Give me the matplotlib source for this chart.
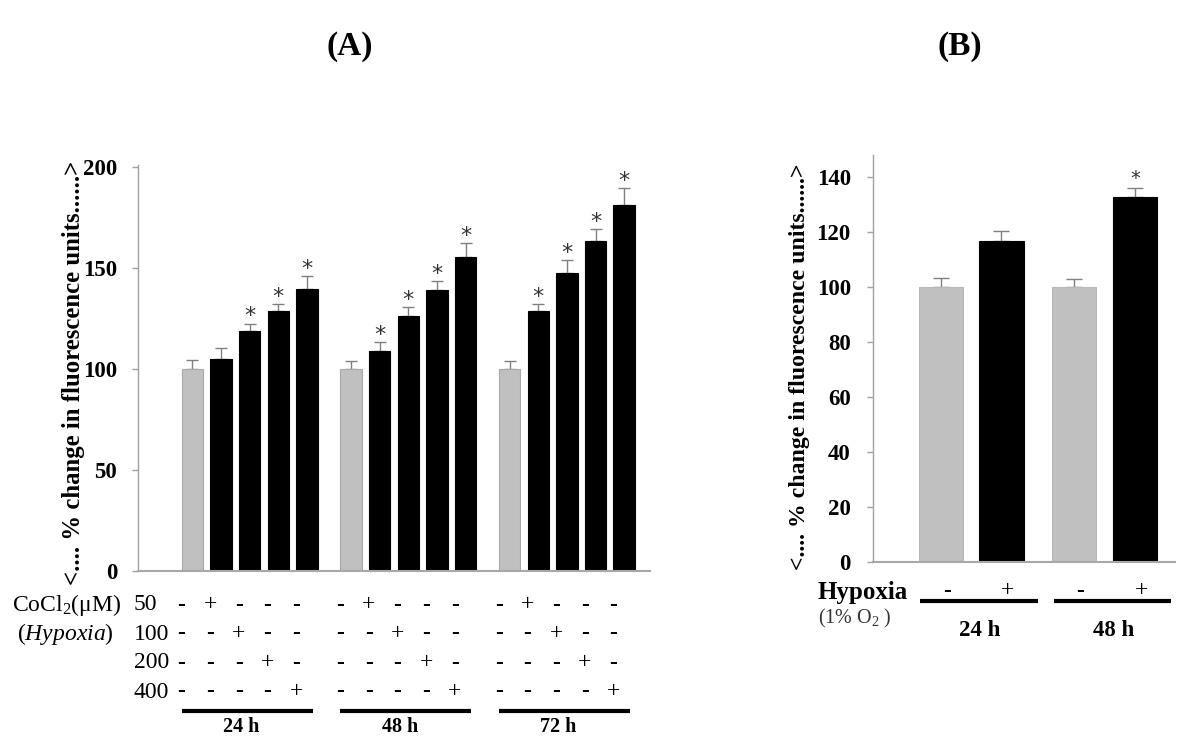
import matplotlib
matplotlib.use('Agg')
import matplotlib.pyplot as plt
import numpy as np
from matplotlib.transforms import blended_transform_factory

plt.rcParams['font.family'] = ['Liberation Serif', 'DejaVu Serif']
plt.rcParams['mathtext.fontset'] = 'custom'
plt.rcParams['mathtext.rm'] = 'Liberation Serif'
plt.rcParams['mathtext.it'] = 'Liberation Serif:italic'
plt.rcParams['mathtext.bf'] = 'Liberation Serif:bold'

# ---------------- data: panel A ----------------
times_a = ['24 h', '48 h', '72 h']
cocl2_doses = ['50', '100', '200', '400']
values_a = [[100, 105.0, 118.8, 128.6, 139.6],
            [100, 108.9, 126.1, 139.0, 155.4],
            [100, 128.6, 147.5, 163.4, 181.3]]
errors_a = [[4.5, 5.4, 3.7, 3.4, 6.2],
            [3.9, 4.3, 4.5, 4.5, 6.8],
            [3.9, 3.4, 6.3, 5.8, 8.3]]
signif_a = [[False, False, True, True, True],
            [False, True, True, True, True],
            [False, True, True, True, True]]
yticks_a = [0, 50, 100, 150, 200]

# ---------------- data: panel B ----------------
times_b = ['24 h', '48 h']
hypoxia_b = ['-', '+']
values_b = [[100, 116.7], [100, 132.5]]
errors_b = [[3.3, 3.4], [2.7, 3.5]]
signif_b = [[False, False], [False, True]]
yticks_b = [0, 20, 40, 60, 80, 100, 120, 140]

ylabel_text = '<.... % change in fluorescence units......>'

GRAY = '#c0c0c0'
BLACK = '#000000'
W, H = 1200, 748
fig = plt.figure(figsize=(W / 100, H / 100), dpi=100)

ov = fig.add_axes([0, 0, 1, 1])
ov.set_xlim(0, W)
ov.set_ylim(H, 0)
ov.axis('off')

def style_axis(ax, yt, fs, pad):
    for s in ['top', 'right']:
        ax.spines[s].set_visible(False)
    ax.spines['left'].set_color('#a0a0a0')
    ax.spines['bottom'].set_color('#a8a8a8')
    ax.spines['left'].set_linewidth(1.0)
    ax.spines['bottom'].set_linewidth(1.5)
    ax.set_yticks(yt)
    ax.set_yticklabels([str(t) for t in yt], fontsize=fs, fontweight='bold')
    ax.tick_params(axis='y', direction='out', length=4, width=1, color='#a0a0a0', pad=pad)
    ax.set_xticks([])
    ax.patch.set_alpha(0)

def sign_text(x, y, sym, tr, fs):
    ov.text(x, y, sym, transform=tr, fontsize=fs, ha='center', va='center',
            fontweight='bold' if sym == '-' else 'normal')

# ---------------- panel A ----------------
axA = fig.add_axes([138 / W, (H - 571) / H, 512 / W, 406 / H])
group_step_a = 5.54
xa = []
for g in range(len(times_a)):
    xs = g * group_step_a + np.arange(len(values_a[g]))
    xa.append(xs)
    cols = [GRAY] + [BLACK] * (len(values_a[g]) - 1)
    ecs = ['#a8a8a8'] + [BLACK] * (len(values_a[g]) - 1)
    axA.bar(xs, values_a[g], width=0.75, color=cols, edgecolor=ecs, linewidth=0.8, zorder=2)
    axA.errorbar(xs, values_a[g], yerr=[np.zeros(len(xs)), errors_a[g]], fmt='none',
                 ecolor='#808080', elinewidth=1, capsize=4.5, capthick=1, zorder=1)
    for x, v, e, s in zip(xs, values_a[g], errors_a[g], signif_a[g]):
        if s:
            axA.annotate('*', (x, v + e), xytext=(0, 1), textcoords='offset points',
                         ha='center', va='baseline', fontsize=16, family='DejaVu Sans',
                         color='#333333')
axA.set_xlim(-1.9, xa[-1][-1] + 0.9)
axA.set_ylim(0, 201)
style_axis(axA, yticks_a, 16.5, 11)

trA = blended_transform_factory(axA.transData, ov.transData)
row_y = [605, 634, 663, 692]
for r, dose in enumerate(cocl2_doses):
    ov.text(134, row_y[r], dose, fontsize=17, ha='left', va='center')
    for g in range(len(times_a)):
        for i, x in enumerate(xa[g]):
            sym = '+' if i == r + 1 else '-'
            sign_text(x - 0.38, row_y[r], sym, trA, 17)
ov.text(12, row_y[0], 'CoCl$_2$(\u03bcM)', fontsize=17, ha='left', va='center')
ov.text(17, row_y[1], '($\\mathit{Hypoxia}$)', fontsize=17, ha='left', va='center')
for g in range(len(times_a)):
    x0 = xa[g][0] - 0.37
    x1 = xa[g][-1] + 0.2
    ov.plot([x0, x1], [711, 711], transform=trA, color='black', lw=3, solid_capstyle='butt')
    ov.text((xa[g][0] + xa[g][-1]) / 2 - 0.3, 727, times_a[g], transform=trA,
            fontsize=14.5, fontweight='bold', ha='center', va='center')

# ---------------- panel B ----------------
axB = fig.add_axes([873 / W, (H - 561.7) / H, 302 / W, (561.7 - 155) / H])
group_step_b = 2.2
xb = []
for g in range(len(times_b)):
    xs = g * group_step_b + np.arange(len(values_b[g]))
    xb.append(xs)
    axB.bar(xs, values_b[g], width=0.73, color=[GRAY, BLACK], edgecolor=['#b8b8b8', BLACK],
            linewidth=0.8, zorder=2)
    axB.errorbar(xs, values_b[g], yerr=[np.zeros(len(xs)), errors_b[g]], fmt='none',
                 ecolor='#808080', elinewidth=1, capsize=6, capthick=1, zorder=1)
    for x, v, e, s in zip(xs, values_b[g], errors_b[g], signif_b[g]):
        if s:
            axB.annotate('*', (x, v + e), xytext=(0, 3), textcoords='offset points',
                         ha='center', va='baseline', fontsize=14, family='DejaVu Sans',
                         color='#333333')
axB.set_xlim(-1.116, xb[-1][-1] + 0.66)
axB.set_ylim(0, 147.9)
style_axis(axB, yticks_b, 16.5, 12)

trB = blended_transform_factory(axB.transData, ov.transData)
ov.text(818, 592, 'Hypoxia', fontsize=18, fontweight='bold', ha='left', va='center')
ov.text(818, 618, '(1% O$_2$ )', fontsize=14.5, color='#333333', ha='left', va='center')
for g in range(len(times_b)):
    for i, x in enumerate(xb[g]):
        sign_text(x + 0.1, 591, hypoxia_b[i], trB, 17)
    ov.plot([xb[g][0] - 0.34, xb[g][-1] + 0.6], [601, 601], transform=trB, color='black',
            lw=3, solid_capstyle='butt')
    ov.text((xb[g][0] + xb[g][-1]) / 2 + 0.15, 631, times_b[g], transform=trB,
            fontsize=16.5, fontweight='bold', ha='center', va='center')

# ---------------- titles & y labels ----------------
ov.text(350, 46, '(A)', fontsize=24, fontweight='bold', ha='center', va='center')
ov.text(960, 46, '(B)', fontsize=24, fontweight='bold', ha='center', va='center')

labA = ov.text(74, 372.5, ylabel_text, rotation=90, ha='center', va='center',
               fontsize=16, fontweight='bold')
labB = ov.text(800, 366.5, ylabel_text, rotation=90, ha='center', va='center',
               fontsize=16, fontweight='bold')
fig.canvas.draw()
for lab, target in [(labA, 425), (labB, 407)]:
    bb = lab.get_window_extent()
    lab.set_fontsize(16 * target / bb.height)

fig.savefig('out.png', dpi=100)
